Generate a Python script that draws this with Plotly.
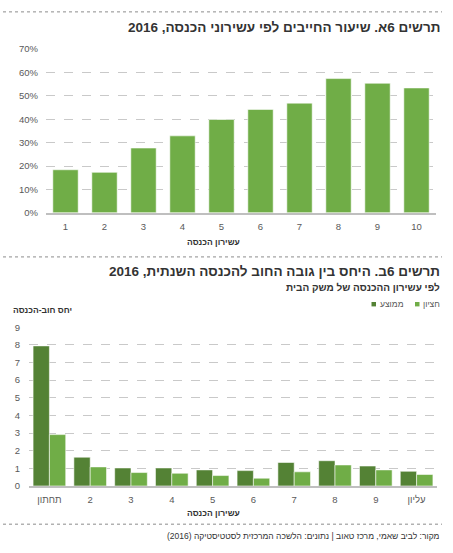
import plotly.graph_objects as go

W, H = 453, 553

# ---- data ----
deciles_a = ["1", "2", "3", "4", "5", "6", "7", "8", "9", "10"]
share_liable = [18.4, 17.3, 27.7, 32.9, 39.9, 44.2, 46.9, 57.4, 55.4, 53.4]

deciles_b = ["תחתון", "2", "3", "4", "5", "6", "7", "8", "9", "עליון"]
ratio_mean = [7.94, 1.63, 1.02, 1.02, 0.91, 0.87, 1.33, 1.43, 1.13, 0.83]
ratio_median = [2.91, 1.08, 0.76, 0.72, 0.59, 0.44, 0.80, 1.19, 0.91, 0.65]

RLM = "\u200f"
title_a = "תרשים 6א. שיעור החייבים לפי עשירוני הכנסה, 2016"
title_b = "תרשים 6ב. היחס בין גובה החוב להכנסה השנתית, 2016"
subtitle_b = "לפי עשירון ההכנסה של משק הבית"
xtitle = "עשירון הכנסה"
ytitle_b = "יחס חוב-הכנסה"
name_mean = "ממוצע"
name_median = "חציון"
source = "מקור: לביב שאמי, מרכז טאוב | נתונים: הלשכה המרכזית לסטטיסטיקה (2016)"

LIGHT = "#70AD47"
DARK = "#548235"
GRID = "#c9c9c9"
TXT = "#333333"
TICK = "#595959"
FONT = "Liberation Sans, Arial, sans-serif"


def px(x):
    return x / W


def py(y):
    return 1 - y / H


fig = go.Figure()

fig.add_trace(go.Bar(
    x=deciles_a, y=share_liable, xaxis="x", yaxis="y", width=0.65,
    marker=dict(color=LIGHT, line=dict(color="rgba(255,255,255,0.55)", width=1)),
    showlegend=False,
))
fig.add_trace(go.Bar(
    x=deciles_b, y=ratio_mean, xaxis="x2", yaxis="y2", name=name_mean,
    marker=dict(color=DARK, line=dict(color="rgba(255,255,255,0.55)", width=1)),
    showlegend=False,
))
fig.add_trace(go.Bar(
    x=deciles_b, y=ratio_median, xaxis="x2", yaxis="y2", name=name_median,
    marker=dict(color=LIGHT, line=dict(color="rgba(255,255,255,0.55)", width=1)),
    showlegend=False,
))

axis_common = dict(showgrid=False, zeroline=False, ticks="", fixedrange=True)
fig.update_layout(
    width=W, height=H,
    margin=dict(l=0, r=0, t=0, b=0),
    paper_bgcolor="white", plot_bgcolor="white",
    font=dict(family=FONT, color=TXT),
    barmode="group", bargap=0.2, bargroupgap=0.0,
    showlegend=False,
    xaxis=dict(domain=[px(46), px(436)], anchor="y", type="category",
               showline=True, linecolor="#bfbfbf", linewidth=2,
               tickfont=dict(size=9.5, color=TICK), ticklabelstandoff=4,
               **axis_common),
    yaxis=dict(domain=[py(211), py(44)], anchor="x", range=[0, 70], dtick=10,
               ticksuffix="%", showgrid=True, gridcolor=GRID, griddash="dash",
               gridwidth=1, zeroline=False, ticks="", fixedrange=True,
               tickfont=dict(size=9.5, color=TICK), ticklabelstandoff=7),
    xaxis2=dict(domain=[px(29), px(437)], anchor="y2", type="category",
                showline=True, linecolor="#bfbfbf", linewidth=2,
                tickfont=dict(size=9.5, color=TICK), ticklabelstandoff=4,
                **axis_common),
    yaxis2=dict(domain=[py(489.7), py(327.7)], anchor="x2", range=[0, 9], dtick=1,
                showgrid=True, gridcolor=GRID, griddash="dash", gridwidth=1,
                zeroline=False, ticks="", fixedrange=True,
                tickfont=dict(size=9.5, color=TICK), ticklabelstandoff=8),
)

shapes = []
for yy in (6, 256, 528.7):
    shapes.append(dict(type="line", xref="paper", yref="paper",
                       x0=px(3), x1=px(442), y0=py(yy), y1=py(yy),
                       line=dict(color="#8c8c8c", width=1, dash="dot")))
# manual legend squares
for x0, col in ((371.5, DARK), (415, LIGHT)):
    shapes.append(dict(type="rect", xref="paper", yref="paper",
                       x0=px(x0), x1=px(x0 + 4.5), y0=py(306.5), y1=py(302),
                       fillcolor=col, line=dict(width=0)))

ann = []


def text(t, x, y, size, bold=False, anchor="right", color=TXT):
    s = f"<b>{RLM}{t}{RLM}</b>" if bold else f"{RLM}{t}{RLM}"
    ann.append(dict(text=s, xref="paper", yref="paper", x=px(x), y=py(y),
                    xanchor=anchor, yanchor="middle", showarrow=False,
                    font=dict(size=size, color=color, family=FONT)))


text(title_a, 442, 22, 13.5, bold=True)
text(xtitle, 213, 241, 8.5, bold=True, anchor="center")
text(title_b, 442, 270.5, 13.5, bold=True)
text(subtitle_b, 442, 287.5, 10, bold=True)
text(name_mean, 378, 304.5, 8.5, anchor="left", color=TICK)
text(name_median, 421, 304.5, 8.5, anchor="left", color=TICK)
text(ytitle_b, 74, 310, 8.5, bold=True)
text(xtitle, 213, 517.5, 8.5, bold=True, anchor="center")
text(source, 442, 541, 8.5, color=TXT)

fig.update_layout(shapes=shapes, annotations=ann)
fig.write_html("out.html")
